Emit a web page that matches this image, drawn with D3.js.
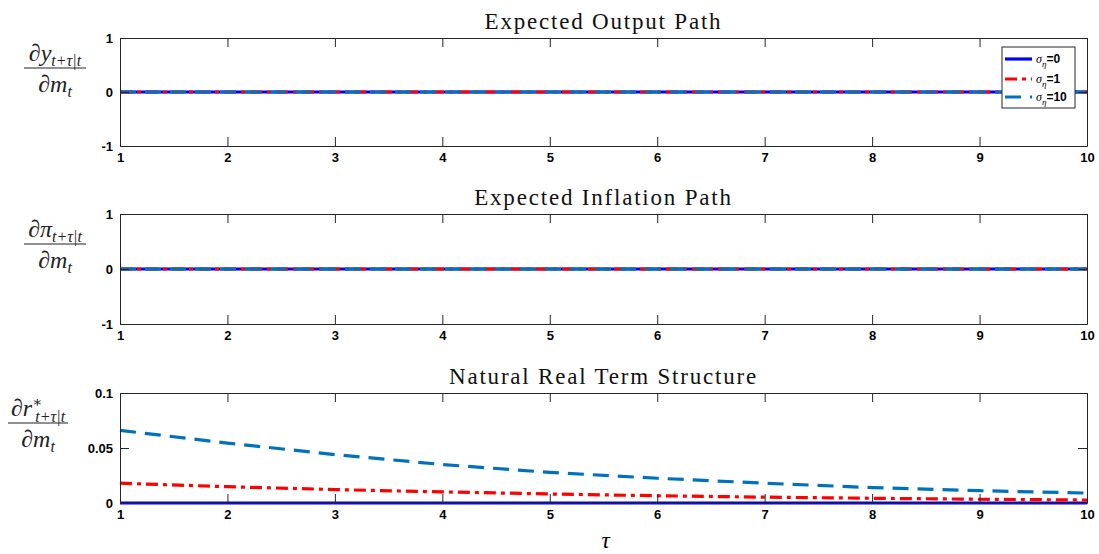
<!DOCTYPE html>
<html><head><meta charset="utf-8">
<script src="https://cdn.jsdelivr.net/npm/d3@7"></script>
<style>body{margin:0;background:#fff}</style>
</head><body>
<svg id="c" width="1099" height="554"></svg>
<script>
const tau = [1,2,3,4,5,6,7,8,9,10];
const seriesNames = ["0","1","10"];
// Panel 1: expected output path
const output0 = [0,0,0,0,0,0,0,0,0,0];
const output1 = [0,0,0,0,0,0,0,0,0,0];
const output10 = [0,0,0,0,0,0,0,0,0,0];
// Panel 2: expected inflation path
const infl0 = [0,0,0,0,0,0,0,0,0,0];
const infl1 = [0,0,0,0,0,0,0,0,0,0];
const infl10 = [0,0,0,0,0,0,0,0,0,0];
// Panel 3: natural real term structure
const rstar0 = [0,0,0,0,0,0,0,0,0,0];
const rstar1 = [0.018,0.0148,0.0122,0.0101,0.0082,0.0066,0.0053,0.0043,0.0034,0.0027];
const rstar10 = [0.066,0.0545,0.0440,0.0350,0.0278,0.0225,0.0180,0.0140,0.0112,0.0090];
const xTicks = [1,2,3,4,5,6,7,8,9,10];
const yTicksA = [-1,0,1];
const yTicksC = [0,0.05,0.1];
const titles = ["Expected Output Path","Expected Inflation Path","Natural Real Term Structure"];

const svg = d3.select("#c");
const L = 120, R = 1087;
const x = d3.scaleLinear().domain([1,10]).range([L,R]);
const styles = [
  {color:"#0000ff", dash:null},
  {color:"#ff0000", dash:"12,5,4,5"},
  {color:"#0072bd", dash:"16,9"}
];
const axisColor = "#262626";
const serif = "'Liberation Serif', 'DejaVu Serif', serif";
const panels = [
  {top:38, bot:146, domain:[-1,1], ticks:yTicksA, fmt:d=>String(d), data:[output0,output1,output10], title:titles[0], num:"y"},
  {top:214, bot:324, domain:[-1,1], ticks:yTicksA, fmt:d=>String(d), data:[infl0,infl1,infl10], title:titles[1], num:"π"},
  {top:393, bot:503, domain:[0,0.1], ticks:yTicksC, fmt:d=>String(d), data:[rstar0,rstar1,rstar10], title:titles[2], num:"r"}
];
const TL = 9;
panels.forEach((p,i)=>{
  const y = d3.scaleLinear().domain(p.domain).range([p.bot,p.top]);
  const g = svg.append("g");
  const line = d3.line().x((d,j)=>x(tau[j])).y(d=>y(d));
  p.data.forEach((arr,k)=>{
    g.append("path").attr("d", line(arr)).attr("fill","none")
      .attr("stroke", styles[k].color).attr("stroke-width",3.2)
      .attr("stroke-dasharray", styles[k].dash);
  });
  const bx = d3.axisBottom(x).tickValues(xTicks).tickSize(-TL).tickSizeOuter(0).tickFormat(d3.format("d"));
  const tx = d3.axisTop(x).tickValues(xTicks).tickSize(-TL).tickSizeOuter(0).tickFormat("");
  const ly = d3.axisLeft(y).tickValues(p.ticks).tickSize(-TL).tickSizeOuter(0).tickFormat(p.fmt);
  const ry = d3.axisRight(y).tickValues(p.ticks).tickSize(-TL).tickSizeOuter(0).tickFormat("");
  const ax = [
    g.append("g").attr("transform",`translate(0,${p.bot})`).call(bx),
    g.append("g").attr("transform",`translate(0,${p.top})`).call(tx),
    g.append("g").attr("transform",`translate(${L},0)`).call(ly),
    g.append("g").attr("transform",`translate(${R},0)`).call(ry)
  ];
  ax.forEach(a=>{
    a.selectAll("path.domain").attr("stroke",axisColor).attr("stroke-width",1);
    a.selectAll("line").attr("stroke",axisColor).attr("stroke-width",1);
    a.selectAll("text").attr("fill","#000").style("font-family","'Liberation Sans', Arial, sans-serif")
      .style("font-weight","bold").style("font-size","13px");
  });
  ax[0].selectAll("text").attr("dy","0.3em").attr("y",12);
  ax[2].selectAll("text").attr("x",-7);
  svg.append("text").attr("x",(L+R)/2).attr("y",p.top-9).attr("text-anchor","middle")
    .style("font-family",serif).style("font-size","23px").style("letter-spacing","1.8px").attr("fill","#111").text(p.title);
  // y label fraction
  const cx = i===2 ? 38 : 55;
  const barY = i===0 ? 68 : (i===1 ? 244 : 423);
  const halfW = i===2 ? 30 : 31;
  svg.append("line").attr("x1",cx-halfW).attr("x2",cx+halfW).attr("y1",barY).attr("y2",barY)
    .attr("stroke","#222").attr("stroke-width",1);
  const nt = svg.append("text").attr("x",cx).attr("y",barY-7).attr("text-anchor","middle")
    .style("font-family",serif).style("font-size","24px").attr("fill","#222");
  nt.append("tspan").text("∂");
  nt.append("tspan").style("font-style","italic").text(p.num);
  if (i===2) {
    nt.append("tspan").attr("dy",-9).style("font-size","15px").text("∗");
    nt.append("tspan").attr("dx",-7).attr("dy",15).style("font-size","16px").style("font-style","italic").text("t+τ|t");
  } else {
    nt.append("tspan").attr("dy",5).style("font-size","16px").style("font-style","italic").text("t+τ|t");
  }
  const dt = svg.append("text").attr("x",cx).attr("y",barY+24).attr("text-anchor","middle")
    .style("font-family",serif).style("font-size","24px").attr("fill","#222");
  dt.append("tspan").text("∂");
  dt.append("tspan").style("font-style","italic").text("m");
  dt.append("tspan").attr("dy",5).style("font-size","16px").style("font-style","italic").text("t");
});
svg.append("text").attr("x",(L+R)/2+2).attr("y",548).attr("text-anchor","middle")
  .style("font-family",serif).style("font-style","italic").style("font-size","23px").text("τ");
// legend
const lg = svg.append("g");
lg.append("rect").attr("x",1002).attr("y",47).attr("width",73).attr("height",61)
  .attr("fill","#fff").attr("stroke",axisColor).attr("stroke-width",1);
const rowsY = [59,79,97];
seriesNames.forEach((n,k)=>{
  lg.append("line").attr("x1",1005).attr("x2",1032).attr("y1",rowsY[k]).attr("y2",rowsY[k])
    .attr("stroke",styles[k].color).attr("stroke-width",3.2).attr("stroke-dasharray",styles[k].dash);
  const t = lg.append("text").attr("x",1036).attr("y",rowsY[k]+4)
    .style("font-family","'Liberation Sans', Arial, sans-serif").style("font-size","12px").style("font-weight","bold");
  t.append("tspan").style("font-family",serif).style("font-style","italic").style("font-weight","normal").style("font-size","12px").text("σ");
  t.append("tspan").attr("dy",4).style("font-family",serif).style("font-style","italic").style("font-weight","normal").style("font-size","9px").text("η");
  t.append("tspan").attr("dy",-4).text("="+n);
});
</script>
</body></html>
